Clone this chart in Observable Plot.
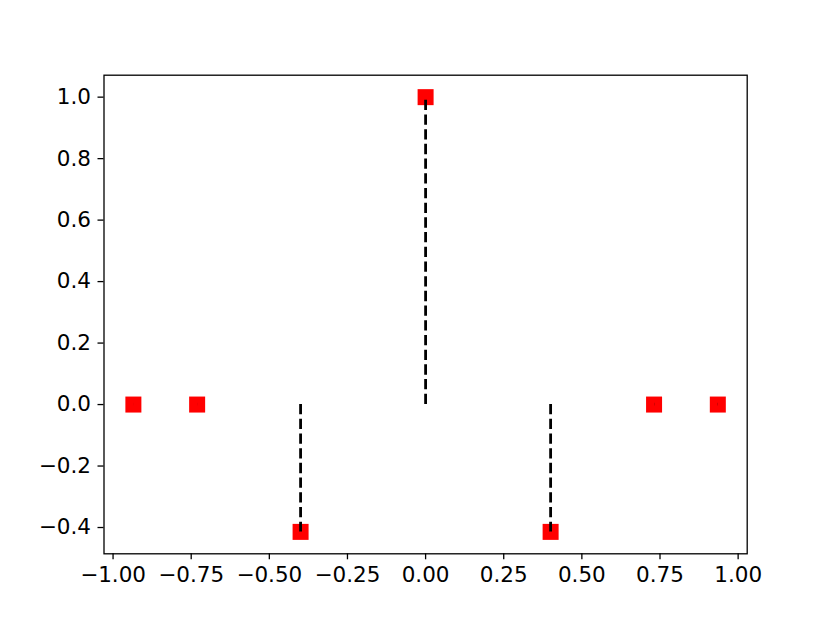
<!DOCTYPE html>
<html>
<head>
<meta charset="utf-8">
<script src="https://cdn.jsdelivr.net/npm/d3@7"></script>
<script src="https://cdn.jsdelivr.net/npm/@observablehq/plot@0.6"></script>
<style>
  html, body { margin: 0; padding: 0; background: #fff; }
  #chart svg { display: block; }
</style>
</head>
<body>
<div id="chart"></div>
<script>
const xs = [-0.935, -0.731, -0.4, 0.0, 0.4, 0.731, 0.935];
const ys = [0.0, 0.0, -0.4142, 1.0, -0.4142, 0.0, 0.0];
const xTicks = [-1.0, -0.75, -0.5, -0.25, 0.0, 0.25, 0.5, 0.75, 1.0];
const yTicks = [-0.4, -0.2, 0.0, 0.2, 0.4, 0.6, 0.8, 1.0];

const data = xs.map((x, i) => ({x, y: ys[i]}));

const chart = Plot.plot({
  width: 830,
  height: 623,
  marginLeft: 103.5,
  marginRight: 83.3,
  marginTop: 74.7,
  marginBottom: 69.7,
  style: {fontFamily: "DejaVu Sans", fontSize: "21.5px", background: "#fff", color: "#000"},
  x: {domain: [-1.029, 1.029]},
  y: {domain: [-0.4855, 1.0714]},
  marks: [
    Plot.frame({stroke: "#000", strokeWidth: 1.3}),
    Plot.axisX({ticks: xTicks, tickFormat: d3.format(".2f"), tickSize: 6, tickPadding: 7, fontSize: 21.5, label: null, stroke: "#000", strokeWidth: 1.3}),
    Plot.axisY({ticks: yTicks, tickFormat: d3.format(".1f"), tickSize: 6, tickPadding: 7, fontSize: 21.5, label: null, stroke: "#000", strokeWidth: 1.3}),
    Plot.dot(data, {x: "x", y: "y", symbol: "square", r: 9.03, fill: "#ff0000", stroke: "none"}),
    Plot.ruleX(data, {x: "x", y1: () => 0, y2: "y", stroke: "#000", strokeWidth: 2.8, strokeDasharray: "10.3,4.4"})
  ]
});
document.getElementById("chart").appendChild(chart);
</script>
</body>
</html>
